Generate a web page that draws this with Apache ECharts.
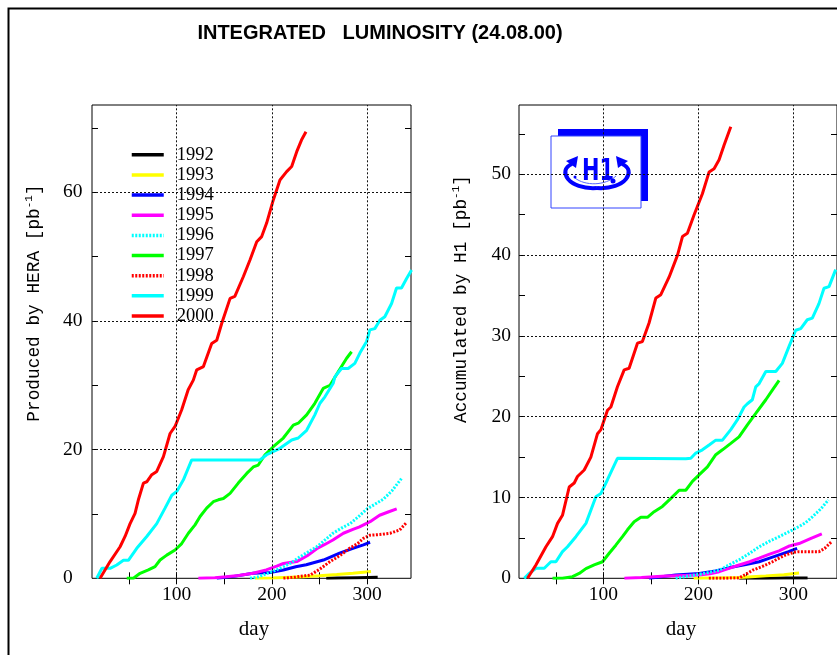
<!DOCTYPE html>
<html><head><meta charset="utf-8">
<script src="https://cdn.jsdelivr.net/npm/echarts@6/dist/echarts.min.js"></script>
<style>html,body{margin:0;padding:0;background:#fff}#c{width:837px;height:655px}</style>
</head><body><div id="c"></div>
<script>
// ---------------- DATA ----------------
const years = ['1992','1993','1994','1995','1996','1997','1998','1999','2000'];

// Produced by HERA [pb^-1]  -- [day, value]
const hera1992 = [[257,0],[270,0.05],[290,0.1],[311,0.15]];
const hera1993 = [[182,0],[200,0.05],[233,0.25],[250,0.4],[268,0.6],[285,0.8],[304,1.05]];
const hera1994 = [[142,0],[160,0.3],[180,0.78],[198,0.9],[212,1.3],[225,1.8],[236,2.1],[254,2.84],[271,3.9],[285,4.66],[296,5.2],[303,5.6]];
const hera1995 = [[122.7,0],[140,0.1],[152,0.25],[165,0.45],[180,0.78],[194,1.3],[205,1.9],[212,2.3],[226,2.6],[237,3.5],[247,4.6],[256,5.3],[264,5.95],[275,7.0],[285,7.6],[292,8.0],[303,8.8],[313,9.8],[322,10.3],[331,10.8]];
const hera1996 = [[177,0],[185,0.2],[194,0.7],[203,1.2],[212,1.8],[220,2.4],[229,3.3],[238,4.1],[247,4.9],[256,6.0],[264,7.0],[273,7.8],[282,8.5],[291,9.6],[300,10.8],[308,11.5],[317,12.3],[326,13.6],[336,15.5]];
const hera1997 = [[47.5,0],[54.5,0],[61.5,0.78],[70.2,1.3],[77.2,1.8],[82.5,2.84],[89.5,3.6],[98.2,4.4],[105.2,5.4],[112.2,7.0],[119.2,8.3],[124.5,9.6],[131.4,10.9],[138.4,11.9],[143.7,12.2],[149,12.4],[156,13.2],[164.6,14.8],[173.5,16.3],[180.4,17.3],[185.6,17.6],[192.7,19.2],[201.4,20.45],[211.9,21.8],[222.4,23.8],[227.6,24.1],[236.4,25.4],[245,27.2],[253.8,29.5],[261,30.0],[269.6,32.1],[278.4,34.2],[283.6,35.2]];
const hera1998 = [[212,0],[225,0.2],[240,0.5],[250,1.4],[261,2.6],[272,3.6],[282,4.7],[290,5.4],[296,6.2],[303,6.7],[313,6.8],[324,7.0],[334,7.5],[341,8.6]];
const hera1999 = [[16,0],[21.3,1.55],[30,1.55],[37,2.07],[44,2.8],[49.2,2.8],[58,4.66],[68.5,6.5],[79,8.5],[87.7,10.9],[94.8,12.9],[100,13.5],[107,15.3],[115.7,18.4],[187.4,18.4],[194.4,19.2],[208.4,20.2],[220.7,21.5],[227.6,21.8],[236.4,23.0],[245,25.4],[250.4,27.2],[255.6,28.2],[264.3,30.3],[266,31.3],[273,32.6],[280,32.6],[287,33.4],[292.3,35.0],[299.4,36.8],[302.8,38.6],[308,38.8],[313.3,40.1],[318.5,40.65],[325.6,42.7],[330.8,45.1],[336,45.1],[341.4,46.6],[346.6,47.9]];
const hera2000 = [[19.5,0],[30,2.6],[40.5,4.9],[45.7,6.5],[51,8.5],[56.2,10.1],[59.7,12.2],[65,14.8],[68.5,15.0],[73.8,16.1],[79,16.6],[86,18.9],[93,22.5],[98.2,23.6],[105.2,26.2],[112,29.3],[117.4,30.8],[121,32.4],[128,32.9],[136.7,36.5],[142,37.0],[147.2,39.6],[156,43.5],[161,43.8],[170,46.9],[177,49.5],[184,52.3],[189.2,53.1],[194.4,55.2],[201.4,58.8],[208.4,61.9],[215.4,63.2],[220.7,64.0],[226,66.3],[231,68.1],[235.7,69.4]];

// Accumulated by H1 [pb^-1]  -- [day, value]
const h1_1992 = [[243,0],[270,0.02],[290,0.04],[315,0.05]];
const h1_1993 = [[195,0],[215,0.05],[243,0.1],[256,0.2],[271,0.3],[290,0.45],[306,0.65]];
const h1_1994 = [[148,0],[176,0.4],[201,0.6],[218,0.9],[236,1.4],[250,1.7],[264,2.05],[275,2.5],[285,2.9],[295,3.3],[304,3.7]];
const h1_1995 = [[122,0],[140,0.1],[166,0.28],[185,0.35],[201,0.4],[212,0.55],[222,0.82],[233,1.25],[243,1.65],[254,2.05],[264,2.5],[275,3.0],[285,3.4],[296,4.0],[306,4.3],[318,4.9],[330,5.5]];
const h1_1996 = [[176,0],[190,0.3],[201,0.5],[212,0.75],[222,1.0],[233,1.7],[243,2.3],[254,3.1],[264,3.9],[275,4.6],[285,5.15],[296,5.8],[306,6.4],[313,6.9],[320,7.6],[329,8.6],[337,9.7]];
const h1_1997 = [[46.3,0],[56.8,0],[67.4,0.2],[74.4,0.6],[81.5,1.2],[90.2,1.65],[99,2.05],[106,3.1],[113,4.1],[120,5.15],[125.3,6.0],[132.3,7.0],[139.4,7.55],[146.3,7.55],[153.4,8.25],[162.1,8.9],[171,9.9],[179.7,10.9],[186.7,10.9],[193.7,12.0],[200.7,12.8],[209.5,13.8],[218.3,15.3],[225.3,15.9],[234.1,16.7],[242.8,17.5],[251.6,19.0],[260.4,20.4],[271,22.1],[277.9,23.3],[285,24.5]];
const h1_1998 = [[211,0],[225,0],[243,0.05],[250,0.5],[257,1.0],[268,1.5],[278,2.05],[285,2.5],[292,2.9],[300,3.2],[306,3.3],[316,3.3],[327,3.3],[333,3.7],[340,4.5]];
const h1_1999 = [[16.5,0],[21.8,0.6],[28.8,1.24],[37.6,1.24],[44.6,2.05],[49.9,2.05],[56.8,3.3],[62.1,3.9],[70.9,5.15],[81.5,6.8],[92,10.1],[97.3,10.5],[104.2,12.2],[114.7,14.85],[186.7,14.8],[192,14.85],[197.3,15.5],[204.2,15.9],[211.3,16.5],[218.3,17.1],[225.3,17.1],[234.1,18.4],[241,19.6],[248.1,21.2],[251.6,21.6],[256.8,22.1],[260.4,23.7],[264,24.1],[271,25.6],[281.5,25.6],[288.4,26.6],[295.5,28.7],[302.5,30.7],[307.8,30.9],[314.7,32.0],[320,32.2],[327,34.0],[332.3,35.9],[337.6,36.1],[344.6,38.2]];
const h1_2000 = [[20,0],[28.8,1.65],[39.4,3.9],[46.3,5.15],[51.6,6.8],[56.8,7.8],[63.9,11.3],[69.2,11.8],[72.6,12.6],[79.7,13.4],[86.7,15.0],[93.7,17.9],[97.3,18.4],[104.2,20.8],[107.8,21.2],[114.7,23.7],[121.8,25.8],[127,26.0],[135.8,29.1],[141,29.3],[148,31.6],[155.2,34.7],[160.4,35.1],[169.2,37.3],[178,40.0],[183.2,42.3],[188.4,42.7],[195.5,45.0],[204.2,47.6],[211.3,50.3],[216.5,50.7],[221.8,51.8],[227,53.6],[234.1,55.9]];

// axes
const xRange = [11, 346];
const xTicks = [50, 100, 150, 200, 250, 300];
const xLabels = [100, 200, 300];
const xGrid = [100, 200, 300];
const heraYRange = [0, 73.55];
const heraYTicks = [10, 20, 30, 40, 50, 60, 70];
const heraYLabels = [0, 20, 40, 60];
const heraYGrid = [20, 40, 60];
const h1YRange = [0, 58.58];
const h1YTicks = [5, 10, 15, 20, 25, 30, 35, 40, 45, 50, 55];
const h1YLabels = [0, 10, 20, 30, 40, 50];
const h1YGrid = [10, 20, 30, 40, 50];

const titleText = 'INTEGRATED   LUMINOSITY (24.08.00)';
const heraName = 'Produced by HERA [pb{s|-1}]';
const h1Name = 'Accumulated by H1 [pb{s|-1}]';
const xName = 'day';

// ---------------- STYLE ----------------
const colorOf = {'1992':'#000000','1993':'#ffff00','1994':'#0000ff','1995':'#ff00ff','1996':'#00ffff','1997':'#00ff00','1998':'#ff0000','1999':'#00ffff','2000':'#ff0000'};
const dottedYears = {'1996':true,'1998':true};
const heraSets = [hera1992,hera1993,hera1994,hera1995,hera1996,hera1997,hera1998,hera1999,hera2000];
const h1Sets = [h1_1992,h1_1993,h1_1994,h1_1995,h1_1996,h1_1997,h1_1998,h1_1999,h1_2000];

const serif = 'Liberation Serif';
const mono = 'Liberation Mono';

function gridMarks(yVals){
  return {
    silent: true, symbol: ['none','none'], animation: false,
    label: {show: false},
    lineStyle: {color: '#111', type: [2, 2], width: 1},
    emphasis: {disabled: true},
    data: xGrid.map(v => ({xAxis: v})).concat(yVals.map(v => ({yAxis: v})))
  };
}

const series = [];
[[heraSets, 0, heraYGrid], [h1Sets, 1, h1YGrid]].forEach(([sets, gi, yg]) => {
  sets.forEach((d, i) => {
    const y = years[i];
    const s = {
      name: y, type: 'line', data: d, xAxisIndex: gi * 2, yAxisIndex: gi * 2,
      symbol: 'none', showSymbol: false, animation: false, silent: true, clip: true,
      lineStyle: {color: colorOf[y], width: 3, type: dottedYears[y] ? [2, 1.5] : 'solid'},
      itemStyle: {color: colorOf[y]}
    };
    if (i === 0) s.markLine = gridMarks(yg);
    series.push(s);
  });
});

function xAx(gi, pos, withLabels){
  return {
    type: 'value', gridIndex: gi, position: pos, min: xRange[0], max: xRange[1],
    axisLine: {show: false},
    axisTick: {show: true, inside: true, length: 6, customValues: xTicks, lineStyle: {color: '#000', width: 1}},
    axisLabel: {show: withLabels, customValues: xLabels, margin: 7, color: '#000', fontFamily: serif, fontSize: 19.5},
    splitLine: {show: false}
  };
}
function yAx(gi, pos, range, ticks, labels, withLabels, align, margin){
  return {
    type: 'value', gridIndex: gi, position: pos, min: range[0], max: range[1],
    axisLine: {show: false},
    axisTick: {show: true, inside: true, length: 6, customValues: ticks, lineStyle: {color: '#000', width: 1}},
    axisLabel: {show: withLabels, customValues: labels, margin: margin, align: align, color: '#000', fontFamily: serif, fontSize: 19.5},
    splitLine: {show: false}
  };
}

const supRich = {s: {fontFamily: mono, fontSize: 11, padding: [0, 0, 10, 0], fill: '#000'}};

const option = {
  backgroundColor: '#ffffff',
  animation: false,
  grid: [
    {left: 92, top: 105, width: 319, height: 473.3, show: true, borderColor: '#000', borderWidth: 1, backgroundColor: 'transparent'},
    {left: 519, top: 105, width: 319, height: 473.3, show: true, borderColor: '#000', borderWidth: 1, backgroundColor: 'transparent'}
  ],
  xAxis: [xAx(0, 'bottom', true), xAx(0, 'top', false), xAx(1, 'bottom', true), xAx(1, 'top', false)],
  yAxis: [
    yAx(0, 'left', heraYRange, heraYTicks, heraYLabels, true, 'left', 29),
    yAx(0, 'right', heraYRange, heraYTicks, heraYLabels, false, 'left', 8),
    yAx(1, 'left', h1YRange, h1YTicks, h1YLabels, true, 'right', 8),
    yAx(1, 'right', h1YRange, h1YTicks, h1YLabels, false, 'left', 8)
  ],
  legend: {
    data: years, orient: 'vertical', left: 130, top: 145.3, padding: 0,
    itemWidth: 32, itemHeight: 14, itemGap: 1.15, selectedMode: false,
    itemStyle: {opacity: 0},
    lineStyle: {width: 3.5},
    textStyle: {fontFamily: serif, fontSize: 18.5, color: '#000', padding: [0, 0, 0, 8]}
  },
  series: series,
  graphic: [
    {type: 'rect', silent: true, shape: {x: 8.5, y: 8.5, width: 1000, height: 1000}, style: {fill: 'none', stroke: '#000', lineWidth: 2}},
    {type: 'text', silent: true, x: 380, y: 33, style: {text: titleText, fontFamily: 'Liberation Sans', fontWeight: 'bold', fontSize: 20, fill: '#000', align: 'center', verticalAlign: 'middle'}},
    {type: 'text', silent: true, x: 34, y: 303, rotation: Math.PI / 2, style: {text: heraName, fontFamily: mono, fontSize: 17.8, fill: '#000', align: 'center', verticalAlign: 'middle', rich: supRich}},
    {type: 'text', silent: true, x: 461, y: 299, rotation: Math.PI / 2, style: {text: h1Name, fontFamily: mono, fontSize: 17.8, fill: '#000', align: 'center', verticalAlign: 'middle', rich: supRich}},
    {type: 'text', silent: true, x: 254, y: 629, style: {text: xName, fontFamily: serif, fontSize: 21, fill: '#000', align: 'center', verticalAlign: 'middle'}},
    {type: 'text', silent: true, x: 681, y: 629, style: {text: xName, fontFamily: serif, fontSize: 21, fill: '#000', align: 'center', verticalAlign: 'middle'}},
    // H1 logo
    {type: 'group', silent: true, children: [
      {type: 'rect', shape: {x: 558, y: 129, width: 90, height: 7}, style: {fill: '#0000ff'}},
      {type: 'rect', shape: {x: 641, y: 129, width: 7, height: 72}, style: {fill: '#0000ff'}},
      {type: 'rect', shape: {x: 551, y: 136, width: 90, height: 72}, style: {fill: 'none', stroke: '#3344ff', lineWidth: 1}},
      {type: 'text', x: 598, y: 172, scaleX: 0.95, scaleY: 1.35, style: {text: 'H1', fontFamily: 'DejaVu Sans', fontWeight: 'bold', fontSize: 22, fill: '#0000ff', align: 'center', verticalAlign: 'middle'}},
      {type: 'bezierCurve', shape: {x1: 597, y1: 188, cpx1: 568, cpy1: 190, cpx2: 557, cpy2: 170, x2: 572, y2: 164}, style: {stroke: '#0000ff', lineWidth: 4, fill: 'none'}},
      {type: 'bezierCurve', shape: {x1: 597, y1: 188, cpx1: 626, cpy1: 190, cpx2: 637, cpy2: 170, x2: 622, y2: 164}, style: {stroke: '#0000ff', lineWidth: 4, fill: 'none'}},
      {type: 'bezierCurve', shape: {x1: 575, y1: 178, cpx1: 585, cpy1: 186, cpx2: 605, cpy2: 186, x2: 616, y2: 176}, style: {stroke: '#5566ff', lineWidth: 1, fill: 'none'}},
      {type: 'polygon', shape: {points: [[566, 161], [578, 156], [576, 168]]}, style: {fill: '#0000ff'}},
      {type: 'polygon', shape: {points: [[628, 161], [616, 156], [618, 168]]}, style: {fill: '#0000ff'}},
      {type: 'circle', shape: {cx: 575, cy: 177, r: 1.5}, style: {fill: '#0000ff'}},
      {type: 'circle', shape: {cx: 613, cy: 181, r: 2.5}, style: {fill: '#0000ff'}}
    ]}
  ]
};

const chart = echarts.init(document.getElementById('c'), null, {renderer: 'canvas'});
chart.setOption(option);
</script>
</body></html>
